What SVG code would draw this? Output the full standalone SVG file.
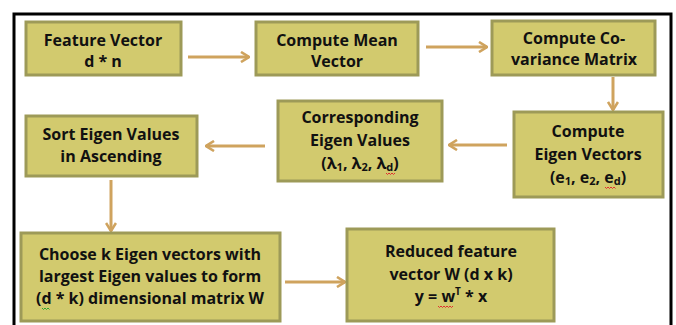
<svg xmlns="http://www.w3.org/2000/svg" width="676" height="325" viewBox="0 0 676 325">
<style>
.box{fill:#D2CA6E;stroke:#9D9A58;stroke-width:3}
.t{font-family:"Open Sans","Liberation Sans",sans-serif;font-weight:bold;font-size:16px;fill:#111;text-anchor:middle}
.c{stroke:#CFA35E;stroke-width:3;fill:none}
.sq{fill:none;stroke-width:1}
</style>
<defs>
<marker id="ah" viewBox="0 0 10 12" refX="9" refY="6" markerWidth="10" markerHeight="12" markerUnits="userSpaceOnUse" orient="auto">
<path d="M1,1 L9,6 L1,11" fill="none" stroke="#CFA35E" stroke-width="2.6"/>
</marker>
</defs>
<rect width="676" height="325" fill="#fff"/>
<path d="M14,326 V14 H671 V326" fill="none" stroke="#000" stroke-width="3"/>
<g id="connectors">
<line class="c" x1="188" y1="57" x2="249" y2="57" marker-end="url(#ah)"/>
<line class="c" x1="426" y1="47" x2="487" y2="47" marker-end="url(#ah)"/>
<line class="c" x1="613" y1="77" x2="613" y2="110" marker-end="url(#ah)"/>
<line class="c" x1="507" y1="145" x2="449" y2="145" marker-end="url(#ah)"/>
<line class="c" x1="265" y1="146" x2="206" y2="146" marker-end="url(#ah)"/>
<line class="c" x1="111" y1="180" x2="111" y2="231" marker-end="url(#ah)"/>
<line class="c" x1="285" y1="282" x2="345" y2="282" marker-end="url(#ah)"/>
</g>
<g id="n1">
<rect class="box" x="26" y="22" width="155" height="53"/>
<text class="t" x="103" y="46">Feature Vector</text>
<text class="t" x="103" y="67">d * n</text>
</g>
<g id="n2">
<rect class="box" x="256" y="22" width="162" height="53"/>
<text class="t" x="337" y="46">Compute Mean</text>
<text class="t" x="337" y="67">Vector</text>
</g>
<g id="n3">
<rect class="box" x="492" y="21" width="163" height="54"/>
<text class="t" x="574" y="44">Compute Co-</text>
<text class="t" x="574" y="65">variance Matrix</text>
</g>
<g id="n4">
<rect class="box" x="278" y="101" width="164" height="80"/>
<text class="t" x="360" y="123">Corresponding</text>
<text class="t" x="360" y="146">Eigen Values</text>
<text class="t" x="360" y="169">(λ<tspan font-size="11" dy="2">1</tspan><tspan dy="-2">, λ</tspan><tspan font-size="11" dy="2">2</tspan><tspan dy="-2">, λ</tspan><tspan font-size="11" dy="2">d</tspan><tspan dy="-2">)</tspan></text>
<path class="sq" stroke="#E03030" d="M386,173 l1.5,1.5 1.5,-1.5 1.5,1.5 1.5,-1.5 1.5,1.5 1.5,-1.5"/>
</g>
<g id="n5">
<rect class="box" x="514" y="112" width="149" height="85"/>
<text class="t" x="588" y="137">Compute</text>
<text class="t" x="588" y="160">Eigen Vectors</text>
<text class="t" x="588" y="183">(e<tspan font-size="11" dy="2">1</tspan><tspan dy="-2">, e</tspan><tspan font-size="11" dy="2">2</tspan><tspan dy="-2">, e</tspan><tspan font-size="11" dy="2">d</tspan><tspan dy="-2">)</tspan></text>
<path class="sq" stroke="#E03030" d="M605,187 l1.5,1.5 1.5,-1.5 1.5,1.5 1.5,-1.5 1.5,1.5 1.5,-1.5 1.5,1.5"/>
</g>
<g id="n6">
<rect class="box" x="26" y="116" width="171" height="60"/>
<text class="t" x="111" y="140">Sort Eigen Values</text>
<text class="t" x="111" y="162">in Ascending</text>
</g>
<g id="n7">
<rect class="box" x="21" y="233" width="259" height="88"/>
<text class="t" x="150" y="260">Choose k Eigen vectors with</text>
<text class="t" x="150" y="282">largest Eigen values to form</text>
<text class="t" x="150" y="304">(d * k) dimensional matrix W</text>
<path class="sq" stroke="#2FA52F" d="M42,308 l1.5,1.5 1.5,-1.5 1.5,1.5 1.5,-1.5 1.5,1.5"/>
</g>
<g id="n8">
<rect class="box" x="347" y="229" width="207" height="92"/>
<text class="t" x="451" y="257">Reduced feature</text>
<text class="t" x="451" y="280">vector W (d x k)</text>
<text class="t" x="451" y="302">y = w<tspan font-size="10" dy="-7">T</tspan><tspan dy="7"> * x</tspan></text>
<path class="sq" stroke="#E03030" d="M438,306 l1.5,1.5 1.5,-1.5 1.5,1.5 1.5,-1.5 1.5,1.5 1.5,-1.5 1.5,1.5 1.5,-1.5 1.5,1.5 1.5,-1.5"/>
</g>
</svg>
